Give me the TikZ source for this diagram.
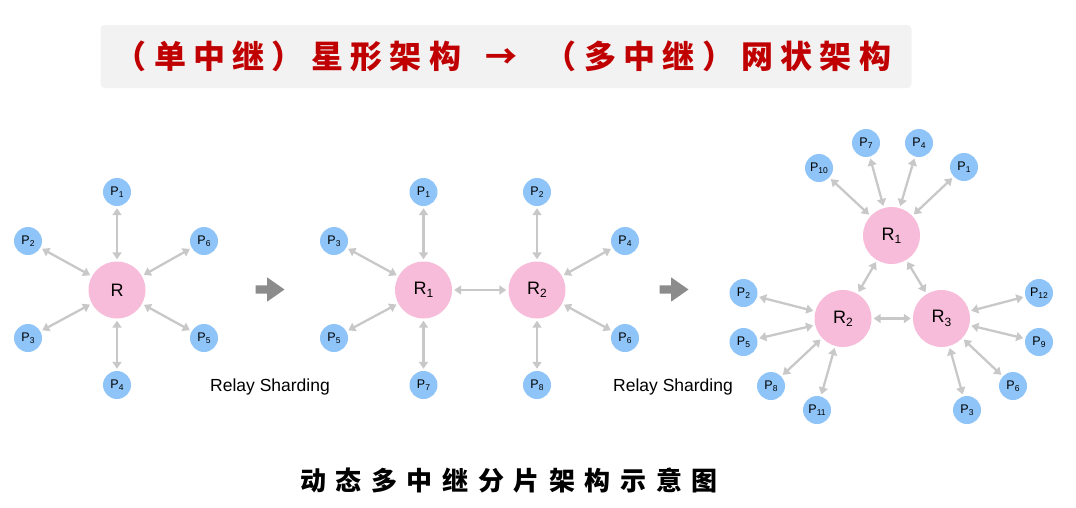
\documentclass[tikz,border=0pt]{standalone}
\usepackage{fontspec}
\setmainfont{Liberation Sans}
\setsansfont{Liberation Sans}
\newfontfamily\cjk{Noto Sans CJK SC}
\usetikzlibrary{arrows.meta,shapes.arrows}
\definecolor{pinkc}{HTML}{F7BCD9}
\definecolor{bluec}{HTML}{8EC4F7}
\definecolor{linkc}{HTML}{C8C8C8}
\definecolor{titlered}{HTML}{C00000}
\definecolor{boxgray}{HTML}{F2F2F2}
\definecolor{bigarrow}{HTML}{8C8C8C}
\newcommand\psub[1]{P\raisebox{-0.35ex}{\fontsize{8.5}{9}\selectfont #1}}
\newcommand\rsub[1]{R\raisebox{-0.35ex}{\fontsize{12}{12}\selectfont #1}}
\newcommand\tc[1]{\makebox[39.3pt]{#1}}
\newcommand\cc[1]{\makebox[35.6pt]{#1}}
\tikzset{
  rnode/.style={circle, fill=pinkc, minimum size=57pt, inner sep=0pt, font=\fontsize{18}{18}\selectfont},
  pnode/.style={circle, fill=bluec, minimum size=28pt, inner sep=0pt, font=\fontsize{12.5}{12.5}\selectfont},
  link/.style={draw=linkc, line width=2.3pt, {Triangle[length=7pt,width=9pt]}-{Triangle[length=7pt,width=9pt]}, shorten >=2pt, shorten <=2pt},
  bigarr/.style={single arrow, fill=bigarrow, inner sep=4pt, minimum height=29pt, single arrow head extend=8pt, single arrow tip angle=70},
  relay/.style={font=\fontsize{17.5}{18}\selectfont}
}
\begin{document}
\begin{tikzpicture}[x=1pt,y=-1pt]
\useasboundingbox (0,0) rectangle (1076,507);
% title
\node[fill=boxgray, rounded corners=4pt, minimum width=811pt, minimum height=63pt, inner sep=0pt] (titlebox) at (506,56.5) {};
\node[font=\cjk\bfseries\fontsize{32}{32}\selectfont, text=titlered, inner sep=0pt] (title) at (503,56)
 {\tc{（}\tc{单}\tc{中}\tc{继}\tc{）}\tc{星}\tc{形}\tc{架}\tc{构}\hspace{17pt}\tc{→}\hspace{20pt}\tc{（}\tc{多}\tc{中}\tc{继}\tc{）}\tc{网}\tc{状}\tc{架}\tc{构}};
% diagram 1
\node[rnode] (aR) at (117,290) {R};
\node[pnode] (aP1) at (117,192) {\psub{1}};
\node[pnode] (aP2) at (28,241) {\psub{2}};
\node[pnode] (aP6) at (204,241) {\psub{6}};
\node[pnode] (aP3) at (28,338) {\psub{3}};
\node[pnode] (aP5) at (204,338) {\psub{5}};
\node[pnode] (aP4) at (117,385) {\psub{4}};
\foreach \p in {aP1,aP2,aP6,aP3,aP5,aP4} \draw[link] (aR) -- (\p);
\node[bigarr] (arr1) at (267,289.5) {};
\node[relay] (rs1) at (270,386.5) {Relay Sharding};
% diagram 2
\node[rnode] (bR1) at (423.5,290) {\rsub{1}};
\node[rnode] (bR2) at (537,290) {\rsub{2}};
\node[pnode] (bP1) at (423.5,192) {\psub{1}};
\node[pnode] (bP2) at (537,192) {\psub{2}};
\node[pnode] (bP3) at (334,241) {\psub{3}};
\node[pnode] (bP4) at (625,241) {\psub{4}};
\node[pnode] (bP5) at (334,338) {\psub{5}};
\node[pnode] (bP6) at (625,338) {\psub{6}};
\node[pnode] (bP7) at (423.5,385) {\psub{7}};
\node[pnode] (bP8) at (537,385) {\psub{8}};
\foreach \p in {bP1,bP3,bP5,bP7} \draw[link] (bR1) -- (\p);
\foreach \p in {bP2,bP4,bP6,bP8} \draw[link] (bR2) -- (\p);
\draw[link] (bR1) -- (bR2);
\node[bigarr] (arr2) at (671,289.5) {};
\node[relay] (rs2) at (673,386.5) {Relay Sharding};
% diagram 3
\node[rnode] (cR1) at (891.5,235.5) {\rsub{1}};
\node[rnode] (cR2) at (843,318.5) {\rsub{2}};
\node[rnode] (cR3) at (941.5,318.5) {\rsub{3}};
\node[pnode] (cP10) at (819,168) {\psub{10}};
\node[pnode] (cP7) at (866,143) {\psub{7}};
\node[pnode] (cP4) at (919,143) {\psub{4}};
\node[pnode] (cP1) at (964,167) {\psub{1}};
\node[pnode] (cP2) at (743.5,293) {\psub{2}};
\node[pnode] (cP5) at (743.5,342) {\psub{5}};
\node[pnode] (cP8) at (771,386) {\psub{8}};
\node[pnode] (cP11) at (817,410) {\psub{11}};
\node[pnode] (cP12) at (1039,293) {\psub{12}};
\node[pnode] (cP9) at (1039,342) {\psub{9}};
\node[pnode] (cP6) at (1013,386) {\psub{6}};
\node[pnode] (cP3) at (967,410) {\psub{3}};
\foreach \p in {cP10,cP7,cP4,cP1} \draw[link] (cR1) -- (\p);
\foreach \p in {cP2,cP5,cP8,cP11} \draw[link] (cR2) -- (\p);
\foreach \p in {cP12,cP9,cP6,cP3} \draw[link] (cR3) -- (\p);
\draw[link] (cR1) -- (cR2);
\draw[link] (cR1) -- (cR3);
\draw[link] (cR2) -- (cR3);
% caption
\node[font=\cjk\bfseries\fontsize{26}{26}\selectfont, inner sep=0pt] (caption) at (509,481)
 {\cc{动}\cc{态}\cc{多}\cc{中}\cc{继}\cc{分}\cc{片}\cc{架}\cc{构}\cc{示}\cc{意}\cc{图}};
\end{tikzpicture}
\end{document}
